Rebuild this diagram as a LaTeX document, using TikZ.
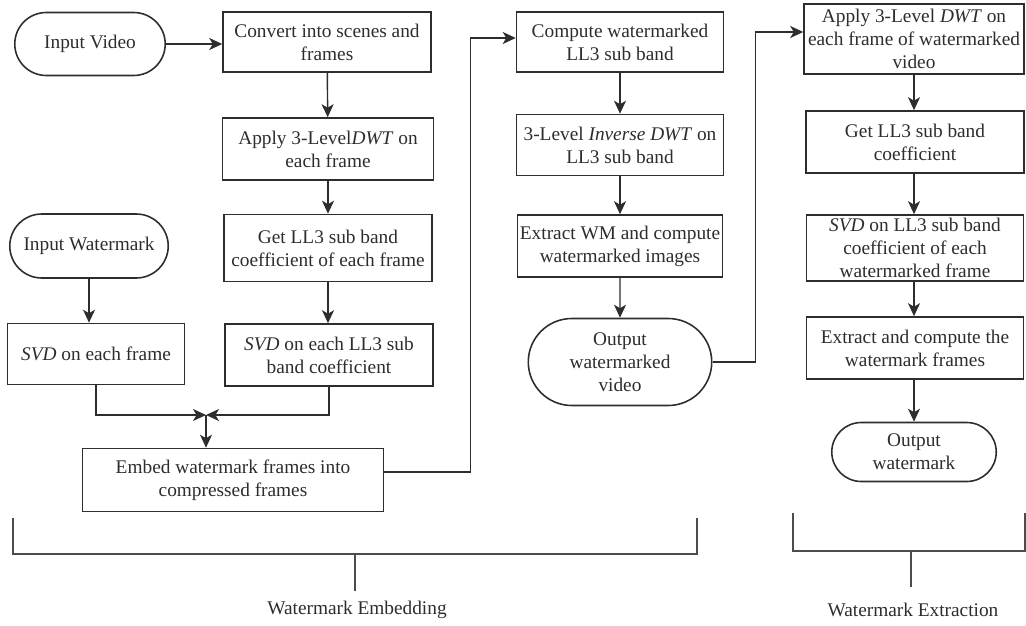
\documentclass[tikz,border=0pt]{standalone}
\usepackage{fontspec}
\setmainfont{Liberation Serif}
\usetikzlibrary{arrows.meta, shapes.misc, calc}
\definecolor{inkgray}{RGB}{45,45,45}

\begin{document}
\begin{tikzpicture}[
        x=0.02cm, y=-0.02cm,
        block/.style={rectangle, draw=inkgray, line width=0.9pt, text=inkgray,
                      minimum width=41.6mm, minimum height=12.4mm, inner sep=1pt,
                      align=center, font=\fontsize{11}{13}\selectfont},
        term/.style={block, rounded rectangle},
        arrow/.style={-{Stealth[length=2.6mm, width=2.4mm, inset=0.7mm]}, line width=0.8pt, draw=inkgray},
        brace/.style={line width=0.8pt, draw=inkgray!85},
        phase/.style={text=inkgray, font=\fontsize{11}{13}\selectfont},
    ]
        \useasboundingbox (0,0) rectangle (1026,625);

        % ===== embedding =====
        \node[term, minimum width=30.8mm, minimum height=12.6mm] (vid) at (90,44) {Input Video};
        \node[block, minimum height=12mm] (conv) at (327,42) {Convert into scenes and\\frames};
        \node[block, minimum width=42.2mm] (dwt) at (328,149) {Apply 3-Level\textit{DWT} on\\each frame};
        \node[block, minimum height=13.4mm] (ll3) at (328,248) {Get LL3 sub band\\coefficient of each frame};
        \node[term, minimum width=32.4mm, minimum height=12.8mm] (wm) at (89,246) {Input Watermark};
        \node[block, minimum width=35.4mm, minimum height=12.2mm] (svdw) at (96,354) {\textit{SVD} on each frame};
        \node[block] (svdl) at (329,355) {\textit{SVD} on each LL3 sub\\band coefficient};
        \coordinate (mrg) at (206,415);
        \node[block, minimum width=60.2mm, minimum height=12.6mm] (embed) at (233,480) {Embed watermark frames into\\compressed frames};

        \node[block, minimum width=41.4mm, minimum height=12mm] (comp) at (620,42) {Compute watermarked\\LL3 sub band};
        \node[block, minimum width=41.4mm, minimum height=12.2mm] (idwt) at (620,145) {3-Level \textit{Inverse DWT} on\\LL3 sub band};
        \node[block, minimum width=41mm] (extr) at (620,246) {Extract WM and compute\\watermarked images};
        \node[term, minimum width=37.4mm, minimum height=17.4mm] (outv) at (620,362) {Output\\watermarked\\video};

        % ===== extraction =====
        \node[block, minimum width=44mm, minimum height=14mm] (adwt) at (914,39) {Apply 3-Level \textit{DWT} on\\each frame of watermarked\\video};
        \node[block, minimum width=43.6mm] (gll3) at (915,142) {Get LL3 sub band\\coefficient};
        \node[block, minimum width=43.4mm, minimum height=13.2mm] (svde) at (915,248) {\textit{SVD} on LL3 sub band\\coefficient of each\\watermarked frame};
        \node[block, minimum width=43.4mm] (extw) at (915,348) {Extract and compute the\\watermark frames};
        \node[term, minimum width=33.6mm, minimum height=11.8mm] (outw) at (914,452) {Output\\watermark};

        \draw[arrow] (vid.east) -- (vid.east -| conv.west);
        \draw[arrow] (conv) -- (dwt);
        \draw[arrow] (dwt) -- (ll3);
        \draw[arrow] (ll3) -- (ll3 |- svdl.north);
        \draw[arrow] (wm.south) -- (wm.south |- svdw.north);
        \draw[arrow] (svdw.south) |- (mrg);
        \draw[arrow] (svdl.south) |- (mrg);
        \draw[arrow] (mrg) -- (mrg |- embed.north);
        \draw[arrow] ($(embed.east)+(0,-8)$) -- ++(86,0) |- ($(comp.west)+(0,-4)$);

        \draw[arrow] (comp) -- (idwt);
        \draw[arrow] (idwt) -- (extr);
        \draw[arrow] (extr) -- (outv);
        \draw[arrow] (outv.east) -- ++(43,0) |- ($(adwt.west)+(0,-7)$);

        \draw[arrow] (adwt.south -| outw) -- (gll3.north -| outw);
        \draw[arrow] (gll3.south -| outw) -- (svde.north -| outw);
        \draw[arrow] (svde.south -| outw) -- (extw.north -| outw);
        \draw[arrow] (extw.south -| outw) -- (outw.north);

        % phase brackets
        \coordinate (embL) at (13,518);
        \coordinate (embR) at (697,518);
        \coordinate (embM) at (355,554);
        \coordinate (extL) at (793,513);
        \coordinate (extR) at (1025,513);
        \coordinate (extM) at (911,551);
        \draw[brace] (embL) |- (embR |- embM) -- (embR);
        \draw[brace] (embM) -- ++(0,37);
        \draw[brace] (extL) |- (extR |- extM) -- (extR);
        \draw[brace] (extM) -- ++(0,36);
        \node[phase] (embtxt) at (357,610) {Watermark Embedding};
        \node[phase] (exttxt) at (913,610) {Watermark Extraction};
    \end{tikzpicture}
\end{document}
